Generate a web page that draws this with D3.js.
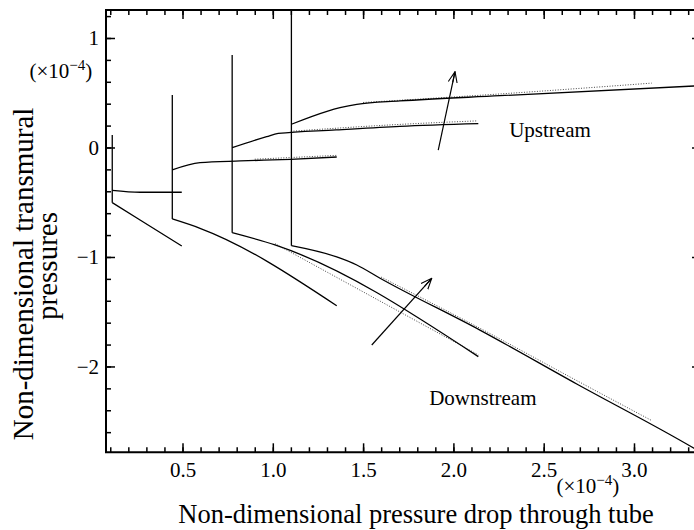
<!DOCTYPE html>
<html>
<head>
<meta charset="utf-8">
<script src="https://cdn.jsdelivr.net/npm/d3@7"></script>
<style>
  html, body { margin: 0; padding: 0; background: #fff; }
  svg { display: block; }
</style>
</head>
<body>
<svg id="chart" width="694" height="530"></svg>
<script>
// ---------------- data (units of 1e-4) ----------------
const xMajorTicks = [0.5, 1.0, 1.5, 2.0, 2.5, 3.0];
const xTickLabels = ["0.5", "1.0", "1.5", "2.0", "2.5", "3.0"];
const yMajorTicks = [-2, -1, 0, 1];
const yTickLabels = ["\u22122", "\u22121", "0", "1"];

// vertical jumps at the start of each case
const caseStartX  = [0.111, 0.4435, 0.775, 1.103];
const spikeTop    = [0.114, 0.479, 0.845, 1.40];
const spikeBottom = [-0.504, -0.653, -0.778, -0.897];

// upstream transmural pressure (solid)
const upstream1 = [[0.111, -0.391], [0.265, -0.409], [0.496, -0.409]];
const upstream2 = [[0.4435, -0.205], [0.597, -0.139], [0.82, -0.123], [1.099, -0.108], [1.354, -0.087]];
const upstream3 = [[0.775, -0.002], [0.966, 0.099], [1.03, 0.128], [1.35, 0.16], [1.704, 0.193], [2.138, 0.218]];
const upstream4 = [[1.103, 0.212], [1.30, 0.33], [1.372, 0.363], [1.465, 0.394], [1.704, 0.425], [2.258, 0.473], [3.371, 0.565]];

// downstream transmural pressure (solid)
const downstream1 = [[0.111, -0.504], [0.265, -0.662], [0.496, -0.9]];
const downstream2 = [[0.4435, -0.653], [0.597, -0.738], [1.354, -1.445]];
const downstream3 = [[0.775, -0.778], [1.012, -0.89], [2.138, -1.91]];
const downstream4 = [[1.103, -0.897], [1.354, -1.0], [1.465, -1.073], [1.594, -1.194], [2.147, -1.668], [2.683, -2.16], [3.332, -2.747], [3.371, -2.785]];

// second model (dotted)
const upstream2Dot   = [[0.9, -0.118], [1.354, -0.083]];
const upstream3Dot   = [[1.1, 0.137], [1.704, 0.2], [2.13, 0.232]];
const upstream4Dot   = [[1.5, 0.4], [2.258, 0.478], [3.098, 0.577]];
const downstream3Dot = [[1.012, -0.889], [2.138, -1.905]];
const downstream4Dot = [[1.6, -1.195], [2.147, -1.662], [2.683, -2.14], [3.098, -2.505]];

// arrows: [tailX, tailY, headX, headY]
const upArrow   = [1.916, -0.023, 2.009, 0.692];
const downArrow = [1.548, -1.804, 1.880, -1.195];

// annotations
const labelUpstream   = {text: "Upstream",   x: 2.535, y: 0.096};
const labelDownstream = {text: "Downstream", x: 2.163, y: -2.352};

// ---------------- layout ----------------
const FONT = "'Liberation Serif','Times New Roman',Times,serif";
const svg = d3.select("#chart");
const mLeft = 106, mRight = 701, mTop = 10, mBottom = 452.3;

const x = d3.scaleLinear().domain([0.0764, 3.371]).range([mLeft, mRight]);
const y = d3.scaleLinear().domain([-2.784, 1.2557]).range([mBottom, mTop]);

const xMinor = d3.range(1, 34).map(d => d / 10);
const yMinor = d3.range(-13, 7).map(d => d / 5);

const defs = svg.append("defs");
defs.append("clipPath").attr("id", "plotclip")
  .append("rect").attr("x", mLeft).attr("y", mTop).attr("width", mRight - mLeft).attr("height", mBottom - mTop);

defs.append("marker").attr("id", "arrowhead")
  .attr("viewBox", "0 -6 12 12").attr("refX", 11).attr("refY", 0)
  .attr("markerWidth", 12).attr("markerHeight", 12).attr("markerUnits", "userSpaceOnUse")
  .attr("orient", "auto")
  .append("path").attr("d", "M0,-4.5 L11,0 L0,4.5 M0,0 L11,0")
  .attr("fill", "none").attr("stroke", "#000").attr("stroke-width", 1.1);

// frame
svg.append("path")
  .attr("d", `M${mLeft},${mTop}H${mRight}V${mBottom}H${mLeft}Z`)
  .attr("fill", "none").attr("stroke", "#000").attr("stroke-width", 2);

// ---------------- axes: d3 axes with inward ticks ----------------
function styleAxis(g) {
  g.select(".domain").remove();
  g.selectAll(".tick line").attr("stroke", "#000").attr("stroke-width", 1.5);
  g.selectAll("text").attr("font-family", FONT).attr("font-size", 21).attr("fill", "#000");
}
// bottom
svg.append("g").attr("transform", `translate(0,${mBottom})`)
  .call(d3.axisBottom(x).tickValues(xMinor).tickSize(-5).tickFormat(""))
  .call(styleAxis);
svg.append("g").attr("transform", `translate(0,${mBottom})`)
  .call(d3.axisBottom(x).tickValues(xMajorTicks).tickSize(-9).tickPadding(9.5)
        .tickFormat((d, i) => xTickLabels[i]))
  .call(styleAxis);
// top
svg.append("g").attr("transform", `translate(0,${mTop})`)
  .call(d3.axisTop(x).tickValues(xMinor).tickSize(-5).tickFormat(""))
  .call(styleAxis);
svg.append("g").attr("transform", `translate(0,${mTop})`)
  .call(d3.axisTop(x).tickValues(xMajorTicks).tickSize(-9).tickFormat(""))
  .call(styleAxis);
// left
svg.append("g").attr("transform", `translate(${mLeft},0)`)
  .call(d3.axisLeft(y).tickValues(yMinor).tickSize(-5).tickFormat(""))
  .call(styleAxis);
svg.append("g").attr("transform", `translate(${mLeft},0)`)
  .call(d3.axisLeft(y).tickValues(yMajorTicks).tickSize(-9).tickPadding(7)
        .tickFormat((d, i) => yTickLabels[i]))
  .call(styleAxis);
// right
svg.append("g").attr("transform", `translate(${mRight},0)`)
  .call(d3.axisRight(y).tickValues(yMinor).tickSize(-5).tickFormat(""))
  .call(styleAxis);
svg.append("g").attr("transform", `translate(${mRight},0)`)
  .call(d3.axisRight(y).tickValues(yMajorTicks).tickSize(-9).tickFormat(""))
  .call(styleAxis);

// ---------------- data marks ----------------
const plot = svg.append("g").attr("clip-path", "url(#plotclip)");
const line = d3.line().x(d => x(d[0])).y(d => y(d[1])).curve(d3.curveMonotoneX);

// dotted second model first
[upstream2Dot, upstream3Dot, upstream4Dot, downstream3Dot, downstream4Dot].forEach(s => {
  plot.append("path").datum(s).attr("d", line)
    .attr("fill", "none").attr("stroke", "#333").attr("stroke-width", 0.9)
    .attr("stroke-dasharray", "1,1.6")
    .attr("transform", "translate(0,-1.2)");
});

// solid lines
[upstream1, upstream2, upstream3, upstream4, downstream1, downstream2, downstream3, downstream4].forEach(s => {
  plot.append("path").datum(s).attr("d", line)
    .attr("fill", "none").attr("stroke", "#000").attr("stroke-width", 1.3)
    .attr("stroke-linejoin", "round");
});

// vertical jumps
plot.selectAll("line.spike").data(caseStartX).enter().append("line")
  .attr("class", "spike")
  .attr("x1", d => x(d)).attr("x2", d => x(d))
  .attr("y1", (d, i) => y(spikeTop[i])).attr("y2", (d, i) => y(spikeBottom[i]))
  .attr("stroke", "#000").attr("stroke-width", 1.3);

// arrows
[upArrow, downArrow].forEach(a => {
  svg.append("line")
    .attr("x1", x(a[0])).attr("y1", y(a[1])).attr("x2", x(a[2])).attr("y2", y(a[3]))
    .attr("stroke", "#000").attr("stroke-width", 1.2).attr("marker-end", "url(#arrowhead)");
});

// annotations
[labelUpstream, labelDownstream].forEach(l => {
  svg.append("text").attr("x", x(l.x)).attr("y", y(l.y))
    .attr("text-anchor", "middle").attr("font-family", FONT).attr("font-size", 21)
    .text(l.text);
});

// exponent labels
function expLabel(px, py) {
  const t = svg.append("text").attr("x", px).attr("y", py)
    .attr("font-family", FONT).attr("font-size", 21);
  t.append("tspan").text("(\u00d710");
  t.append("tspan").attr("font-size", 15).attr("dy", -8).text("\u22124");
  t.append("tspan").attr("dy", 8).text(")");
}
expLabel(29.5, 78);
expLabel(556.5, 493);

// axis titles
svg.append("text").attr("x", 416).attr("y", 523).attr("text-anchor", "middle")
  .attr("font-family", FONT).attr("font-size", 26.5)
  .text("Non-dimensional pressure drop through tube");
svg.append("text").attr("transform", "translate(33,274) rotate(-90)").attr("text-anchor", "middle")
  .attr("font-family", FONT).attr("font-size", 29)
  .text("Non-dimensional transmural");
svg.append("text").attr("transform", "translate(57,266) rotate(-90)").attr("text-anchor", "middle")
  .attr("font-family", FONT).attr("font-size", 29)
  .text("pressures");
</script>
</body>
</html>
